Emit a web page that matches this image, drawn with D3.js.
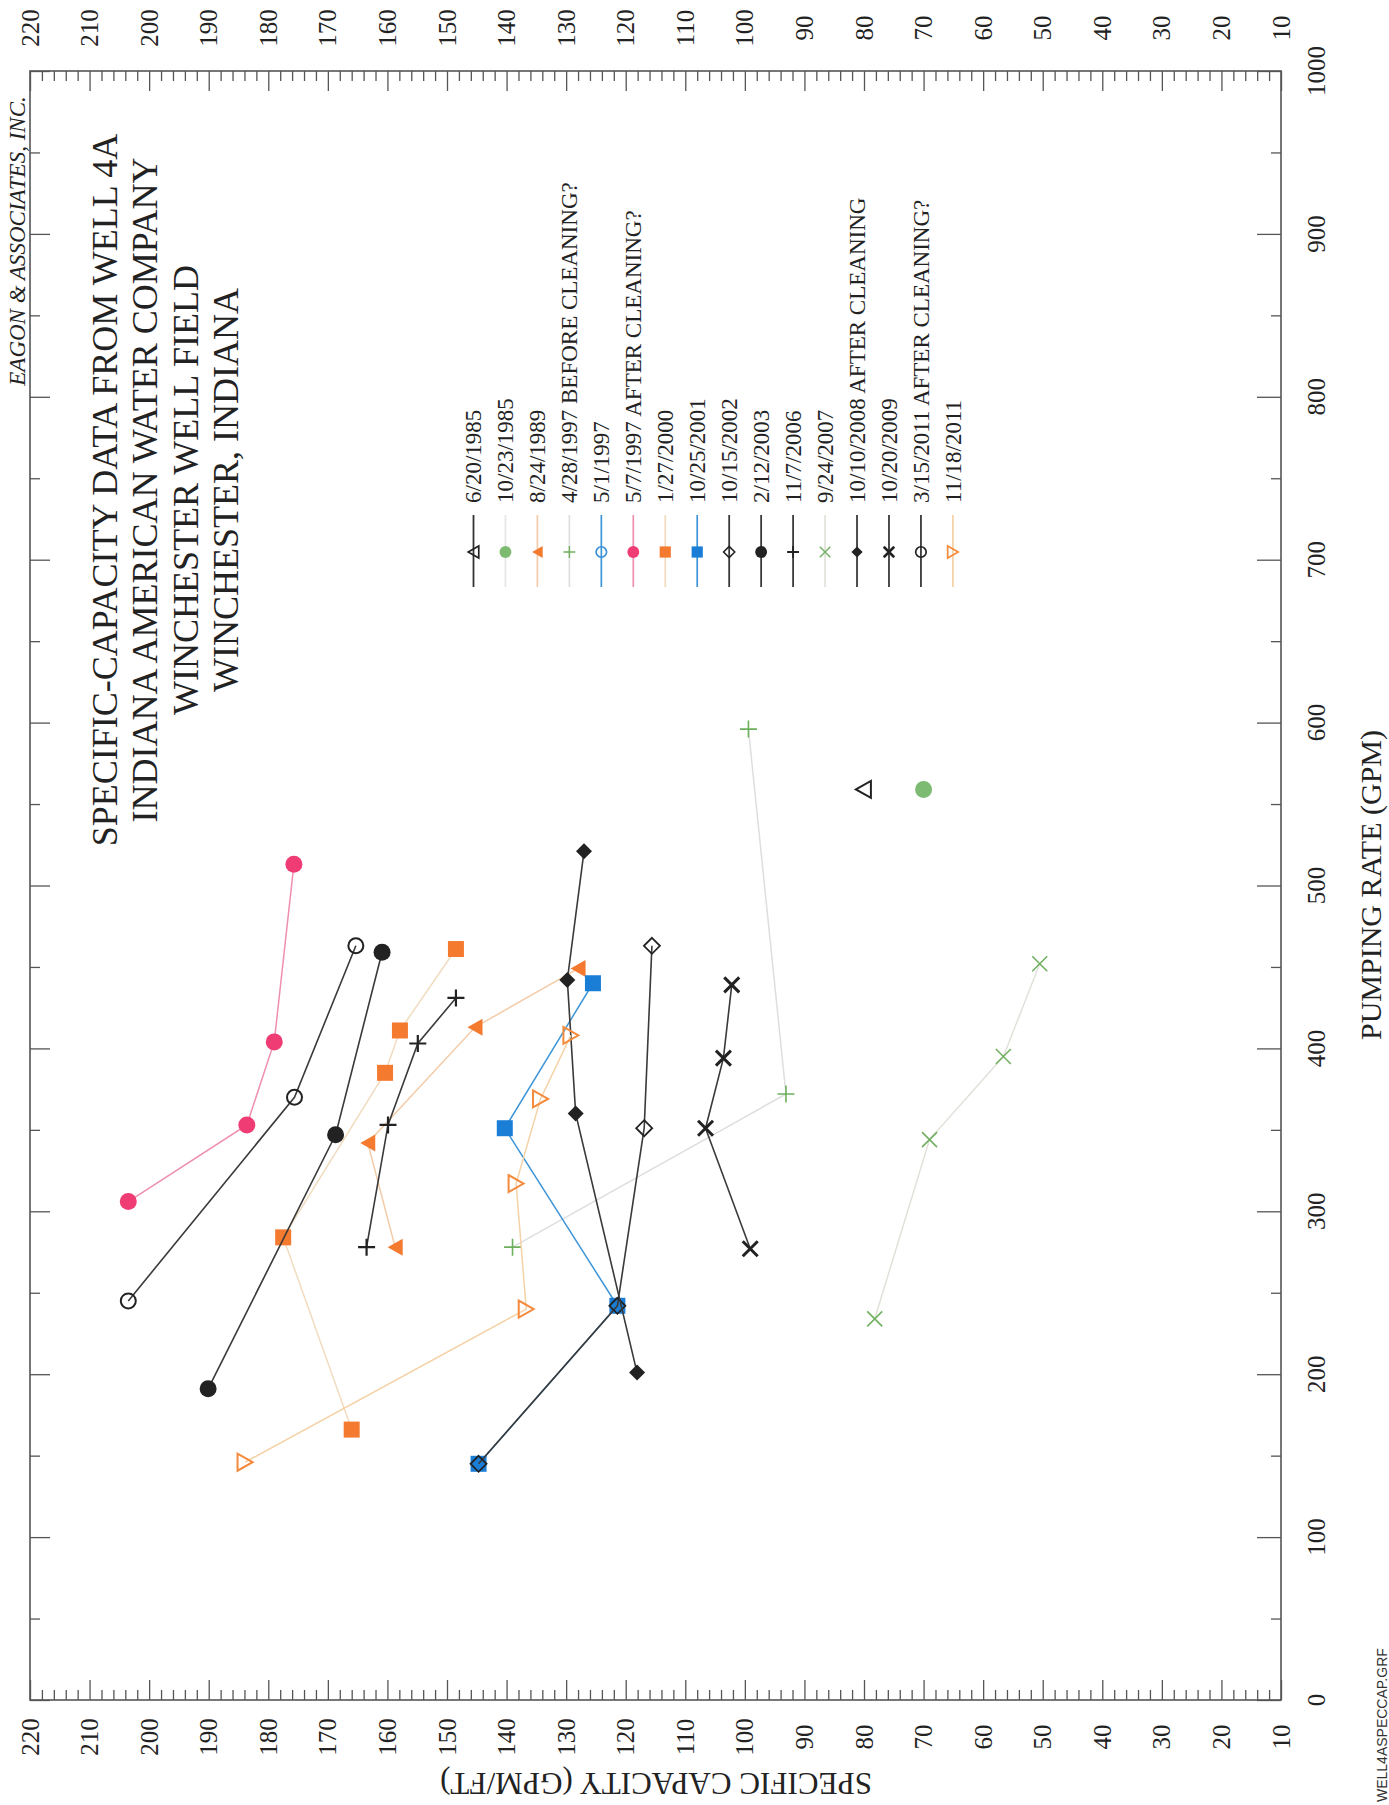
<!DOCTYPE html>
<html><head><meta charset="utf-8">
<script src="https://cdn.jsdelivr.net/npm/d3@7"></script>
<style>body{margin:0;background:#fff}svg{display:block}</style>
</head><body>
<svg id="c" width="1389" height="1805"></svg>
<script>
// ---------- DATA ----------
const capTickLabels = [220,210,200,190,180,170,160,150,140,130,120,110,100,90,80,70,60,50,40,30,20,10];
const gpmTickLabels = [0,100,200,300,400,500,600,700,800,900,1000];
const titleLines = ["SPECIFIC-CAPACITY DATA FROM WELL 4A","INDIANA AMERICAN WATER COMPANY","WINCHESTER WELL FIELD","WINCHESTER, INDIANA"];
const seriesNames = ["6/20/1985","10/23/1985","8/24/1989","4/28/1997 BEFORE CLEANING?","5/1/1997","5/7/1997 AFTER CLEANING?","1/27/2000","10/25/2001","10/15/2002","2/12/2003","11/7/2006","9/24/2007","10/10/2008 AFTER CLEANING","10/20/2009","3/15/2011 AFTER CLEANING?","11/18/2011"];
// [pumping rate (GPM), specific capacity (GPM/FT)]
const d_1985a = [[559,80.1]];
const d_1985b = [[559,70.0]];
const d_1989 = [[449,128.0],[413,145.3],[342,163.3],[278,158.7]];
const d_1997a = [[596,99.4],[372,93.1],[278,139.0]];
const d_1997b = [];
const d_1997c = [[513,175.7],[404,179.0],[353,183.6],[306,203.5]];
const d_2000 = [[461,148.5],[411,157.9],[385,160.4],[284,177.5],[166,166.0]];
const d_2001 = [[440,125.5],[351,140.3],[242,121.4],[145,144.7]];
const d_2002 = [[463,115.6],[351,116.9],[242,121.4],[145,144.7]];
const d_2003 = [[459,160.9],[347,168.7],[191,190.1]];
const d_2006 = [[431,148.5],[403,154.9],[353,159.9],[278,163.5]];
const d_2007 = [[452,50.5],[395,56.6],[344,69.0],[234,78.2]];
const d_2008 = [[521,127.0],[442,129.8],[360,128.4],[201,118.1]];
const d_2009 = [[439,102.2],[394,103.6],[351,106.6],[277,99.1]];
const d_2011a = [[463,165.3],[370,175.6],[245,203.5]];
const d_2011b = [[408,129.2],[369,134.3],[317,138.4],[240,136.7],[146,183.9]];
const seriesData = [d_1985a,d_1985b,d_1989,d_1997a,d_1997b,d_1997c,d_2000,d_2001,d_2002,d_2003,d_2006,d_2007,d_2008,d_2009,d_2011a,d_2011b];

// ---------- STYLES ----------
const styles = [
  {sym:"triL",  fill:"none",    stroke:"#222", sw:2,   line:"#333",    lw:1.6},
  {sym:"circle",fill:"#7dbb72", stroke:"none", sw:0,   line:"#e6e6e6", lw:1.5},
  {sym:"triLf", fill:"#f47a30", stroke:"none", sw:0,   line:"#f3cba8", lw:1.5},
  {sym:"plus",  fill:"none",    stroke:"#6cb05c", sw:1.6, line:"#dedede", lw:1.5},
  {sym:"ocircle",fill:"none",   stroke:"#3a8fd9", sw:2, line:"#3d95d8", lw:1.5},
  {sym:"circle",fill:"#f03c74", stroke:"none", sw:0,   line:"#ef8fae", lw:1.5},
  {sym:"square",fill:"#f47a30", stroke:"none", sw:0,   line:"#f1dcc0", lw:1.5},
  {sym:"square",fill:"#1a7ed6", stroke:"none", sw:0,   line:"#3d95d8", lw:1.5},
  {sym:"odiamond",fill:"none",  stroke:"#222", sw:1.8, line:"#3a3a3a", lw:1.6},
  {sym:"circle",fill:"#222",    stroke:"none", sw:0,   line:"#3a3a3a", lw:1.6},
  {sym:"plus",  fill:"none",    stroke:"#222", sw:2.2, line:"#3a3a3a", lw:1.6},
  {sym:"x",     fill:"none",    stroke:"#72b062", sw:1.6, line:"#e0e2da", lw:1.5},
  {sym:"diamond",fill:"#222",   stroke:"none", sw:0,   line:"#3a3a3a", lw:1.6},
  {sym:"xbold", fill:"none",    stroke:"#222", sw:3,   line:"#3a3a3a", lw:1.6},
  {sym:"ocircle",fill:"none",   stroke:"#222", sw:2,   line:"#3a3a3a", lw:1.6},
  {sym:"triR",  fill:"none",    stroke:"#f48a3c", sw:2, line:"#f4d2a6", lw:1.5}
];

// ---------- LAYOUT ----------
const svg = d3.select("#c");
const L=30, R=1281, T=71, B=1700;
const x = d3.scaleLinear().domain([220,10]).range([L,R]);
const y = d3.scaleLinear().domain([0,1000]).range([B,T]);
const serif = "Liberation Serif, Times New Roman, serif";

function symPath(sym, s){
  const p = d3.path();
  if(sym==="circle"||sym==="ocircle"){ p.arc(0,0,(sym==="circle"?8.5:7.5)*s,0,2*Math.PI); }
  else if(sym==="square"){ const h=8*s; p.rect(-h,-h,2*h,2*h); }
  else if(sym==="diamond"||sym==="odiamond"){ const h=8*s; p.moveTo(0,-h);p.lineTo(h,0);p.lineTo(0,h);p.lineTo(-h,0);p.closePath(); }
  else if(sym==="triL"||sym==="triLf"){ const w=7.5*s,h=8.5*s; p.moveTo(-w,0);p.lineTo(w,-h);p.lineTo(w,h);p.closePath(); }
  else if(sym==="triR"){ const w=7.5*s,h=8.5*s; p.moveTo(w,0);p.lineTo(-w,-h);p.lineTo(-w,h);p.closePath(); }
  else if(sym==="plus"){ const h=8.5*s; p.moveTo(-h,0);p.lineTo(h,0);p.moveTo(0,-h);p.lineTo(0,h); }
  else if(sym==="x"||sym==="xbold"){ const h=7.5*s; p.moveTo(-h,-h);p.lineTo(h,h);p.moveTo(-h,h);p.lineTo(h,-h); }
  return p.toString();
}

// ---------- FRAME & TICKS ----------
function addAxis(axis, tx, ty){
  const g = svg.append("g").attr("transform",`translate(${tx},${ty})`).call(axis);
  g.select(".domain").remove();
  g.selectAll("text").remove();
  g.selectAll("line").attr("stroke","#555").attr("stroke-width",1.3);
}
const capMinor = d3.range(10,221,2).filter(v=>v%10!==0);
const gpmMinor = d3.range(50,1000,100);
addAxis(d3.axisTop(x).tickValues(capMinor).tickSize(-10), 0, T);
addAxis(d3.axisTop(x).tickValues(capTickLabels).tickSize(-20), 0, T);
addAxis(d3.axisBottom(x).tickValues(capMinor).tickSize(-10), 0, B);
addAxis(d3.axisBottom(x).tickValues(capTickLabels).tickSize(-20), 0, B);
addAxis(d3.axisLeft(y).tickValues(gpmMinor).tickSize(-10), L, 0);
addAxis(d3.axisLeft(y).tickValues(gpmTickLabels).tickSize(-20), L, 0);
addAxis(d3.axisRight(y).tickValues(gpmMinor).tickSize(-10), R, 0);
addAxis(d3.axisRight(y).tickValues(gpmTickLabels).tickSize(-24), R, 0);
svg.append("rect").attr("x",x(220)).attr("y",y(1000)).attr("width",x(10)-x(220)).attr("height",y(0)-y(1000))
  .attr("fill","none").attr("stroke","#555").attr("stroke-width",1.6);

// tick labels
const lblG = svg.append("g").attr("font-family",serif).attr("font-size",25).attr("fill","#222");
capTickLabels.forEach(v=>{
  [28,1737].forEach(cy=>{
    lblG.append("text").attr("transform",`translate(${x(v)},${cy}) rotate(-90)`)
      .attr("text-anchor","middle").attr("dy","0.34em").text(v);
  });
});
gpmTickLabels.forEach(v=>{
  lblG.append("text").attr("transform",`translate(1316,${y(v)}) rotate(-90)`)
    .attr("text-anchor","middle").attr("dy","0.34em").text(v);
});

// axis titles
svg.append("text").attr("transform",`translate(1381,885) rotate(-90)`).attr("text-anchor","middle")
  .attr("font-family",serif).attr("font-size",30).attr("fill","#222").text("PUMPING RATE (GPM)");
svg.append("text").attr("transform",`translate(656,1773) rotate(180)`).attr("text-anchor","middle")
  .attr("font-family",serif).attr("font-size",31).attr("fill","#222").text("SPECIFIC CAPACITY (GPM/FT)");

// title
const titleBase = [117,157,198,238];
titleLines.forEach((t,i)=>{
  svg.append("text").attr("transform",`translate(${titleBase[i]},490) rotate(-90)`).attr("text-anchor","middle")
    .attr("font-family",serif).attr("font-size",36).attr("fill","#222").text(t);
});
svg.append("text").attr("transform",`translate(25,241) rotate(-90)`).attr("text-anchor","middle")
  .attr("font-family",serif).attr("font-style","italic").attr("font-size",23).attr("fill","#222")
  .text("EAGON & ASSOCIATES, INC.");
svg.append("text").attr("transform",`translate(1387,1802) rotate(-90)`).attr("text-anchor","start")
  .attr("font-family","Liberation Sans, Arial, sans-serif").attr("font-size",14).attr("fill","#333")
  .text("WELL4ASPECCAP.GRF");

// ---------- SERIES ----------
const line = d3.line().x(d=>x(d[1])).y(d=>y(d[0]));
seriesData.forEach((data,i)=>{
  const st = styles[i];
  const g = svg.append("g");
  if(data.length>1){
    g.append("path").attr("d",line(data)).attr("fill","none").attr("stroke",st.line).attr("stroke-width",st.lw);
  }
  g.selectAll("path.m").data(data).join("path").attr("class","m")
    .attr("transform",d=>`translate(${x(d[1])},${y(d[0])})`)
    .attr("d",symPath(st.sym,1)).attr("fill",st.fill).attr("stroke",st.stroke).attr("stroke-width",st.sw);
});

// ---------- LEGEND ----------
const legX0 = 473.5, legDX = 31.96;
seriesNames.forEach((name,i)=>{
  const st = styles[i];
  const lx = legX0 + i*legDX;
  const g = svg.append("g");
  g.append("line").attr("x1",lx).attr("x2",lx).attr("y1",515).attr("y2",587).attr("stroke",st.line).attr("stroke-width",st.lw+0.2);
  g.append("path").attr("transform",`translate(${lx},552)`).attr("d",symPath(st.sym,0.7))
    .attr("fill",st.fill).attr("stroke",st.stroke).attr("stroke-width",st.sw===0?0:Math.max(1.4,st.sw*0.85));
  g.append("text").attr("transform",`translate(${lx},503) rotate(-90)`).attr("dy","0.34em")
    .attr("font-family",serif).attr("font-size",23).attr("fill","#222").text(name);
});
</script>
</body></html>
